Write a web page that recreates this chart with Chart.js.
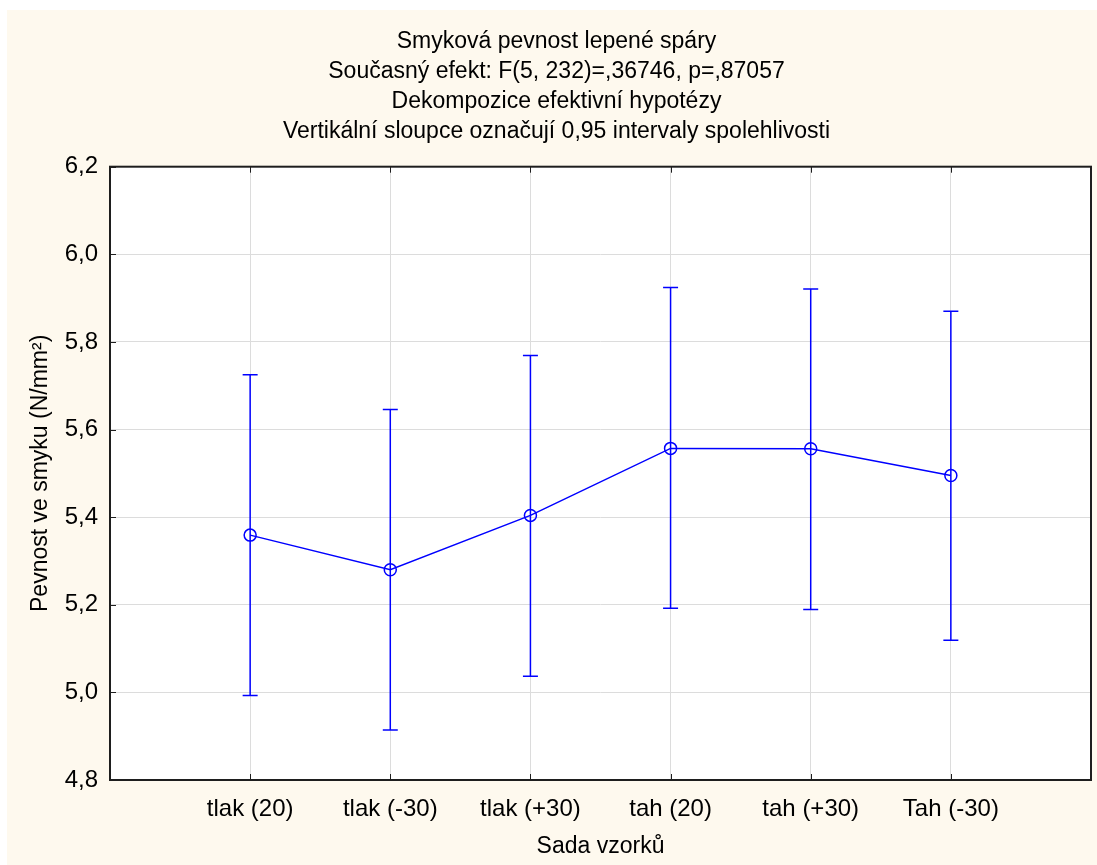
<!DOCTYPE html>
<html>
<head>
<meta charset="utf-8">
<script src="https://cdn.jsdelivr.net/npm/chart.js@4/dist/chart.umd.min.js"></script>
<style>
  html, body { margin: 0; padding: 0; background: #ffffff; }
  canvas { display: block; }
</style>
</head>
<body>
<canvas id="c" width="1097" height="865"></canvas>
<script>
// ---- data ----
const categories = ['tlak (20)', 'tlak (-30)', 'tlak (+30)', 'tah (20)', 'tah (+30)', 'Tah (-30)'];
const means = [5.359, 5.280, 5.404, 5.557, 5.556, 5.495];
const lower = [4.993, 4.914, 5.037, 5.192, 5.189, 5.119];
const upper = [5.725, 5.646, 5.769, 5.924, 5.921, 5.870];
const yTicks = [4.8, 5.0, 5.2, 5.4, 5.6, 5.8, 6.0, 6.2];
const titleLines = [
  'Smyková pevnost lepené spáry',
  'Současný efekt: F(5, 232)=,36746, p=,87057',
  'Dekompozice efektivní hypotézy',
  'Vertikální sloupce označují 0,95 intervaly spolehlivosti'
];
const xTitle = 'Sada vzorků';
const yTitle = 'Pevnost ve smyku (N/mm²)';

const FONT = "'Liberation Sans', Arial, sans-serif";
const BLUE = '#0000ff';

const points = means.map((m, i) => ({ x: i + 1, y: m }));

const bgPlugin = {
  id: 'bg',
  beforeDraw(chart) {
    const { ctx, chartArea: a } = chart;
    ctx.save();
    ctx.fillStyle = '#ffffff';
    ctx.fillRect(0, 0, chart.width, chart.height);
    ctx.fillStyle = '#fef9ee';
    ctx.fillRect(7, 10, chart.width - 7, chart.height - 10);
    ctx.fillStyle = '#ffffff';
    ctx.fillRect(a.left, a.top, a.right - a.left, a.bottom - a.top);
    ctx.restore();
  }
};

const errPlugin = {
  id: 'err',
  beforeDatasetsDraw(chart) {
    const { ctx, scales: { x, y } } = chart;
    ctx.save();
    ctx.strokeStyle = BLUE;
    ctx.lineWidth = 1.5;
    for (let i = 0; i < means.length; i++) {
      const px = x.getPixelForValue(i + 1);
      const pLo = y.getPixelForValue(lower[i]);
      const pHi = y.getPixelForValue(upper[i]);
      ctx.beginPath();
      ctx.moveTo(px, pLo); ctx.lineTo(px, pHi);
      ctx.moveTo(px - 7.5, pLo); ctx.lineTo(px + 7.5, pLo);
      ctx.moveTo(px - 7.5, pHi); ctx.lineTo(px + 7.5, pHi);
      ctx.stroke();
    }
    ctx.restore();
  }
};

const framePlugin = {
  id: 'frame',
  afterDatasetsDraw(chart) {
    const { ctx, chartArea: a, scales: { x, y } } = chart;
    ctx.save();
    ctx.strokeStyle = '#1e1e1e';
    ctx.lineWidth = 1;
    ctx.beginPath();
    yTicks.forEach(v => {
      const py = Math.round(y.getPixelForValue(v)) + 0.5;
      ctx.moveTo(a.left, py); ctx.lineTo(a.left + 6, py);
    });
    categories.forEach((c, i) => {
      const px = Math.round(x.getPixelForValue(i + 1)) + 0.5;
      ctx.moveTo(px, a.bottom); ctx.lineTo(px, a.bottom - 6);
      ctx.moveTo(px, a.top); ctx.lineTo(px, a.top + 6);
    });
    ctx.stroke();
    ctx.lineWidth = 2;
    ctx.strokeRect(a.left, a.top, a.right - a.left, a.bottom - a.top);
    ctx.restore();
  }
};

new Chart(document.getElementById('c'), {
  type: 'line',
  data: {
    datasets: [{
      data: points,
      borderColor: BLUE,
      borderWidth: 1.5,
      pointStyle: 'circle',
      pointRadius: 6,
      pointHoverRadius: 6,
      pointBorderWidth: 1.5,
      pointBorderColor: BLUE,
      pointBackgroundColor: 'rgba(0,0,0,0)',
      fill: false,
      tension: 0
    }]
  },
  options: {
    responsive: false,
    animation: false,
    devicePixelRatio: 1,
    layout: { autoPadding: false, padding: { left: 22, right: 6, top: 0, bottom: 0 } },
    plugins: {
      legend: { display: false },
      tooltip: { enabled: false },
      title: {
        display: true,
        text: titleLines,
        color: '#000000',
        font: { family: FONT, size: 23, weight: 'normal', lineHeight: 30 / 23 },
        padding: { top: 27, bottom: 19.7 }
      }
    },
    scales: {
      x: {
        type: 'linear',
        min: 0,
        max: 7,
        afterFit(s) { s.height = 85; s.paddingLeft = 0; s.paddingRight = 0; },
        afterBuildTicks(s) { s.ticks = [0, 1, 2, 3, 4, 5, 6, 7].map(v => ({ value: v })); },
        ticks: {
          autoSkip: false,
          maxRotation: 0,
          padding: 15,
          color: '#000000',
          font: { family: FONT, size: 24 },
          callback: (v) => (v >= 1 && v <= categories.length ? categories[v - 1] : '')
        },
        grid: { color: '#dcdcdc', lineWidth: 1, drawTicks: false },
        border: { display: false },
        title: {
          display: true,
          text: xTitle,
          color: '#000000',
          font: { family: FONT, size: 23 },
          padding: { top: 5, bottom: 5 }
        }
      },
      y: {
        min: 4.8,
        max: 6.2,
        afterFit(s) { s.width = 88; },
        afterBuildTicks(s) { s.ticks = yTicks.map(v => ({ value: v })); },
        ticks: {
          padding: 12,
          color: '#000000',
          font: { family: FONT, size: 24 },
          callback: (v) => Number(v).toFixed(1).replace('.', ',')
        },
        grid: { color: '#dcdcdc', lineWidth: 1, drawTicks: false },
        border: { display: false },
        title: {
          display: true,
          text: yTitle,
          color: '#000000',
          font: { family: FONT, size: 23 },
          padding: { top: 5, bottom: 5 }
        }
      }
    }
  },
  plugins: [bgPlugin, errPlugin, framePlugin]
});
</script>
</body>
</html>
